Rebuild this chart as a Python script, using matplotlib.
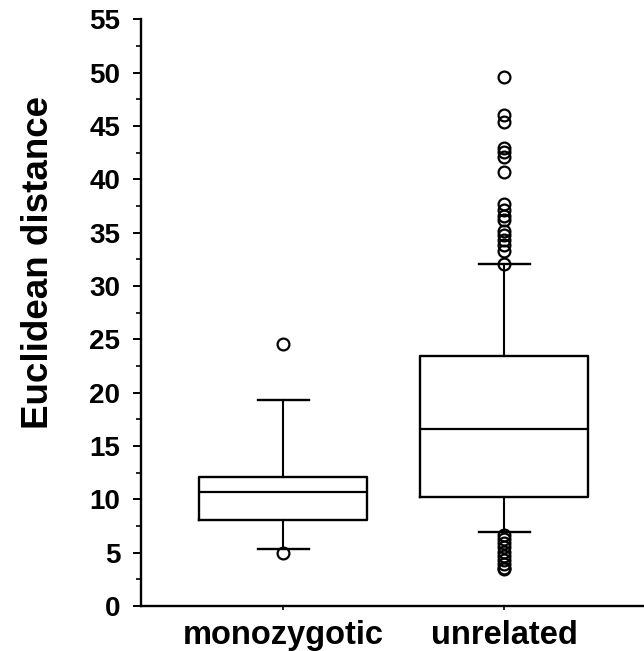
import matplotlib
matplotlib.use("Agg")
import matplotlib.pyplot as plt
from matplotlib.ticker import MultipleLocator

plt.rcParams['font.family'] = ['Liberation Sans', 'DejaVu Sans']
plt.rcParams['font.weight'] = 'bold'

# box statistics
groups = ["monozygotic", "unrelated"]
q1 = [8.1, 10.25]
med = [10.65, 16.6]
q3 = [12.05, 23.45]
whislo = [5.35, 6.9]
whishi = [19.3, 32.1]
fliers_mz = [24.6, 5.0]
fliers_un = [49.6, 46.0, 45.4, 42.9, 42.6, 42.1, 40.7, 37.7, 37.1, 36.6,
             36.2, 35.2, 34.8, 34.3, 33.8, 33.3, 32.1,
             6.7, 6.3, 5.9, 5.5, 5.1, 4.7, 4.3, 3.9, 3.6, 3.5]
fliers = [fliers_mz, fliers_un]

stats = []
for i, g in enumerate(groups):
    stats.append(dict(label=g, q1=q1[i], med=med[i], q3=q3[i],
                      whislo=whislo[i], whishi=whishi[i], fliers=fliers[i]))

fig = plt.figure(figsize=(6.44, 6.51), dpi=100)
ax = fig.add_axes([0.219, 0.0691, 0.781, 0.9012])

ax.bxp(stats, positions=[1, 2], widths=0.76, capwidths=0.23,
       boxprops=dict(color='black', linewidth=1.7),
       medianprops=dict(color='black', linewidth=1.6),
       whiskerprops=dict(color='black', linewidth=1.5),
       capprops=dict(color='black', linewidth=1.7),
       flierprops=dict(marker='o', markersize=8.5, markerfacecolor='none',
                       markeredgecolor='black', markeredgewidth=1.6))

ax.set_xlim(0.357, 2.633)
ax.set_ylim(0, 55)
ax.yaxis.set_major_locator(MultipleLocator(5))
ax.yaxis.set_minor_locator(MultipleLocator(2.5))

for s in ['top', 'right']:
    ax.spines[s].set_visible(False)
for s in ['left', 'bottom']:
    ax.spines[s].set_linewidth(1.7)

ax.tick_params(axis='y', which='major', length=6, width=1.4, pad=9, labelsize=20)
ax.tick_params(axis='y', which='minor', length=3.5, width=1.2)
ax.tick_params(axis='x', which='major', length=3, width=1.2, pad=7, labelsize=23.5)
for lab in ax.get_xticklabels() + ax.get_yticklabels():
    lab.set_fontweight('bold')

ax.set_ylabel("Euclidean distance", fontsize=26.5, fontweight='bold')
ax.yaxis.set_label_coords(-0.17, 0.585)

fig.savefig("out.png", dpi=100)
